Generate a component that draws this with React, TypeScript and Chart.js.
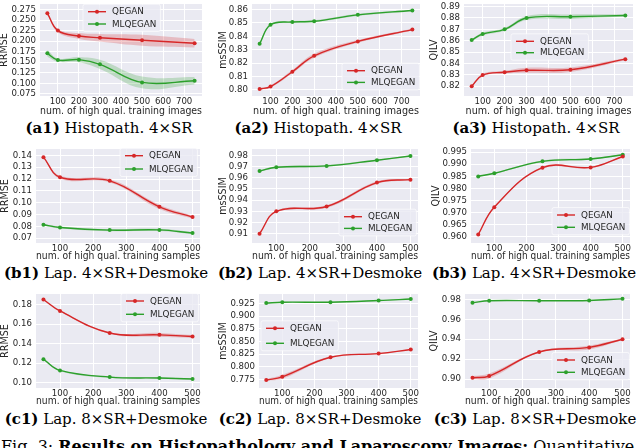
import React, { useEffect, useRef } from "react";
import { Chart, registerables } from "chart.js";

Chart.register(...registerables);

// ---------- categories / ticks ----------
const xHisto = [50, 100, 200, 300, 500, 750];
const xLap = [50, 100, 250, 400, 500];
const xTicksHisto = [100, 200, 300, 400, 500, 600, 700];
const xTicksLap = [100, 200, 300, 400, 500];

const yTicksA1 = [0.075, 0.1, 0.125, 0.15, 0.175, 0.2, 0.225, 0.25, 0.275];
const yTicksA2 = [0.8, 0.81, 0.82, 0.83, 0.84, 0.85, 0.86];
const yTicksA3 = [0.82, 0.83, 0.84, 0.85, 0.86, 0.87, 0.88, 0.89];
const yTicksB1 = [0.07, 0.08, 0.09, 0.1, 0.11, 0.12, 0.13, 0.14];
const yTicksB2 = [0.91, 0.92, 0.93, 0.94, 0.95, 0.96, 0.97, 0.98];
const yTicksB3 = [0.96, 0.965, 0.97, 0.975, 0.98, 0.985, 0.99, 0.995];
const yTicksC1 = [0.1, 0.12, 0.14, 0.16, 0.18];
const yTicksC2 = [0.775, 0.8, 0.825, 0.85, 0.875, 0.9, 0.925];
const yTicksC3 = [0.9, 0.92, 0.94, 0.96, 0.98];

// ---------- series values (mean and half-width of shaded band) ----------
const a1Q = [0.266, 0.225, 0.212, 0.208, 0.202, 0.195];
const a1QErr = [0.003, 0.004, 0.007, 0.009, 0.013, 0.01];
const a1M = [0.171, 0.155, 0.156, 0.145, 0.102, 0.106];
const a1MErr = [0.008, 0.004, 0.006, 0.011, 0.014, 0.009];

const a2Q = [0.8007, 0.8025, 0.8136, 0.8255, 0.8362, 0.845];
const a2QErr = [0.0006, 0.0008, 0.0012, 0.0015, 0.001, 0.0006];
const a2M = [0.8345, 0.8486, 0.8507, 0.8512, 0.856, 0.8593];
const a2MErr = [0.0005, 0.0006, 0.0007, 0.0007, 0.0008, 0.0006];

const a3Q = [0.82, 0.8298, 0.8323, 0.834, 0.8345, 0.8438];
const a3QErr = [0.001, 0.001, 0.0012, 0.0022, 0.002, 0.001];
const a3M = [0.8606, 0.8659, 0.87, 0.88, 0.8811, 0.8822];
const a3MErr = [0.0008, 0.0012, 0.0012, 0.0018, 0.002, 0.001];

const b1Q = [0.1385, 0.1215, 0.1185, 0.0965, 0.0878];
const b1QErr = [0.0005, 0.0012, 0.0014, 0.0018, 0.0012];
const b1M = [0.0813, 0.079, 0.0768, 0.077, 0.0743];
const b1MErr = [0.0006, 0.0009, 0.0009, 0.0009, 0.0008];

const b2Q = [0.91, 0.93, 0.9343, 0.9557, 0.9583];
const b2QErr = [0.0004, 0.0008, 0.0012, 0.0012, 0.0008];
const b2M = [0.966, 0.9694, 0.9706, 0.9757, 0.9794];
const b2MErr = [0.0006, 0.0008, 0.0009, 0.0006, 0.0004];

const b3Q = [0.961, 0.9723, 0.9886, 0.9887, 0.9932];
const b3QErr = [0.0002, 0.0003, 0.0004, 0.0003, 0.0002];
const b3M = [0.985, 0.9863, 0.9912, 0.9922, 0.9939];
const b3MErr = [0.0002, 0.0003, 0.0004, 0.0003, 0.0002];

const c1Q = [0.1852, 0.1734, 0.1508, 0.1489, 0.1472];
const c1QErr = [0.0005, 0.0008, 0.0008, 0.002, 0.0015];
const c1M = [0.1239, 0.1124, 0.1056, 0.1046, 0.1036];
const c1MErr = [0.0008, 0.0008, 0.0008, 0.0006, 0.0006];

const c2Q = [0.7737, 0.78, 0.8187, 0.826, 0.834];
const c2QErr = [0.0015, 0.004, 0.0015, 0.0015, 0.0008];
const c2M = [0.926, 0.9278, 0.9278, 0.931, 0.934];
const c2MErr = [0.0008, 0.0008, 0.0008, 0.0008, 0.0008];

const c3Q = [0.9013, 0.903, 0.9272, 0.9318, 0.94];
const c3QErr = [0.0015, 0.0025, 0.0008, 0.002, 0.0008];
const c3M = [0.9768, 0.9787, 0.9787, 0.979, 0.9806];
const c3MErr = [0.0003, 0.0003, 0.0003, 0.0003, 0.0003];

const seriesNames = ["QEGAN", "MLQEGAN"];

// ---------- style ----------
const RED = "#d62728";
const GREEN = "#2ca02c";
const RED_BAND = "rgba(214,39,40,0.24)";
const GREEN_BAND = "rgba(44,160,44,0.24)";
const BG = "#EAEAF2";
const TXT = "#262626";
const TICK_SIZE = 8.6;
const TITLE_SIZE = 9.6;
const LEGEND_SIZE = 8.8;
const SANS = "'DejaVu Sans', sans-serif";
const SERIF = "'DejaVu Serif', serif";

type Cfg = {
  x: number[];
  xTicks: number[];
  xMin: number;
  xMax: number;
  q: number[];
  qErr: number[];
  m: number[];
  mErr: number[];
  yMin: number;
  yMax: number;
  yTicks: number[];
  yDigits: number;
  yTitle: string;
  xTitle: string;
  rect: [number, number, number, number];
  yTitleX: number;
  xTitleY: number;
  legend: [number, number, number];
};

const XT_IMG = "num. of high qual. training images";
const XT_SMP = "num. of high qual. training samples";

const panels: Cfg[] = [
  { x: xHisto, xTicks: xTicksHisto, xMin: 15, xMax: 785, q: a1Q, qErr: a1QErr, m: a1M, mErr: a1MErr,
    yMin: 0.0698, yMax: 0.288, yTicks: yTicksA1, yDigits: 3, yTitle: "RRMSE", xTitle: XT_IMG,
    rect: [40, 0, 206, 96], yTitleX: 5, xTitleY: 111.7, legend: [88, 11.7, 12.3] },
  { x: xHisto, xTicks: xTicksHisto, xMin: 15, xMax: 785, q: a2Q, qErr: a2QErr, m: a2M, mErr: a2MErr,
    yMin: 0.7955, yMax: 0.8641, yTicks: yTicksA2, yDigits: 2, yTitle: "msSSIM", xTitle: XT_IMG,
    rect: [252, 0, 424, 96], yTitleX: 224, xTitleY: 111.7, legend: [347, 70.7, 11.7] },
  { x: xHisto, xTicks: xTicksHisto, xMin: 15, xMax: 785, q: a3Q, qErr: a3QErr, m: a3M, mErr: a3MErr,
    yMin: 0.8114, yMax: 0.8923, yTicks: yTicksA3, yDigits: 2, yTitle: "QILV", xTitle: XT_IMG,
    rect: [464, 0, 637, 96], yTitleX: 435, xTitleY: 111.7, legend: [516, 41.3, 11.4] },
  { x: xLap, xTicks: xTicksLap, xMin: 27.5, xMax: 522.5, q: b1Q, qErr: b1QErr, m: b1M, mErr: b1MErr,
    yMin: 0.0659, yMax: 0.1454, yTicks: yTicksB1, yDigits: 2, yTitle: "RRMSE", xTitle: XT_SMP,
    rect: [36, 145, 204, 243], yTitleX: 6, xTitleY: 256.7, legend: [125, 155.7, 13.3] },
  { x: xLap, xTicks: xTicksLap, xMin: 27.5, xMax: 522.5, q: b2Q, qErr: b2QErr, m: b2M, mErr: b2MErr,
    yMin: 0.9017, yMax: 0.9857, yTicks: yTicksB2, yDigits: 2, yTitle: "msSSIM", xTitle: XT_SMP,
    rect: [252, 145, 422, 243], yTitleX: 223.3, xTitleY: 256.7, legend: [344, 216.7, 11.7] },
  { x: xLap, xTicks: xTicksLap, xMin: 27.5, xMax: 522.5, q: b3Q, qErr: b3QErr, m: b3M, mErr: b3MErr,
    yMin: 0.9575, yMax: 0.9963, yTicks: yTicksB3, yDigits: 3, yTitle: "QILV", xTitle: XT_SMP,
    rect: [471, 145, 634, 243], yTitleX: 436.7, xTitleY: 256.7, legend: [557, 215, 12.3] },
  { x: xLap, xTicks: xTicksLap, xMin: 27.5, xMax: 522.5, q: c1Q, qErr: c1QErr, m: c1M, mErr: c1MErr,
    yMin: 0.0944, yMax: 0.1908, yTicks: yTicksC1, yDigits: 2, yTitle: "RRMSE", xTitle: XT_SMP,
    rect: [36, 290, 204, 388], yTitleX: 6, xTitleY: 401.7, legend: [126, 301, 13.3] },
  { x: xLap, xTicks: xTicksLap, xMin: 27.5, xMax: 522.5, q: c2Q, qErr: c2QErr, m: c2M, mErr: c2MErr,
    yMin: 0.7579, yMax: 0.944, yTicks: yTicksC2, yDigits: 3, yTitle: "msSSIM", xTitle: XT_SMP,
    rect: [259, 290, 422, 388], yTitleX: 224, xTitleY: 401.7, legend: [266, 328.3, 15] },
  { x: xLap, xTicks: xTicksLap, xMin: 27.5, xMax: 522.5, q: c3Q, qErr: c3QErr, m: c3M, mErr: c3MErr,
    yMin: 0.891, yMax: 0.9855, yTicks: yTicksC3, yDigits: 2, yTitle: "QILV", xTitle: XT_SMP,
    rect: [465, 290, 634, 388], yTitleX: 435, xTitleY: 401.7, legend: [557, 360, 12.3] },
];

type Cap = { tag: string; text: string; cx: number; cy: number };
const captions: Cap[] = [
  { tag: "(a1)", text: "Histopath. 4×SR", cx: 109, cy: 128 },
  { tag: "(a2)", text: "Histopath. 4×SR", cx: 318, cy: 128 },
  { tag: "(a3)", text: "Histopath. 4×SR", cx: 536, cy: 128 },
  { tag: "(b1)", text: "Lap. 4×SR+Desmoke", cx: 106, cy: 273 },
  { tag: "(b2)", text: "Lap. 4×SR+Desmoke", cx: 320, cy: 273 },
  { tag: "(b3)", text: "Lap. 4×SR+Desmoke", cx: 534, cy: 273 },
  { tag: "(c1)", text: "Lap. 8×SR+Desmoke", cx: 106, cy: 419 },
  { tag: "(c2)", text: "Lap. 8×SR+Desmoke", cx: 320, cy: 419 },
  { tag: "(c3)", text: "Lap. 8×SR+Desmoke", cx: 535, cy: 419 },
];

function Panel({ cfg }: { cfg: Cfg }) {
  const ref = useRef<HTMLCanvasElement | null>(null);
  const [l, t, r, b] = cfg.rect;
  const half = (TITLE_SIZE * 1.2) / 2;
  const cLeft = Math.round(cfg.yTitleX - half);
  const yW = l - cLeft;
  const xH = Math.round(cfg.xTitleY + half - b);
  const cw = r - cLeft;
  const ch = b - t + xH;

  useEffect(() => {
    if (!ref.current) return;
    const pts = (ys: number[]) => cfg.x.map((x, i) => ({ x, y: ys[i] }));
    const up = (ys: number[], e: number[]) => ys.map((v, i) => v + e[i]);
    const lo = (ys: number[], e: number[]) => ys.map((v, i) => v - e[i]);
    const mainDs = (ys: number[], c: string) => ({
      data: pts(ys),
      borderColor: c,
      backgroundColor: c,
      borderWidth: 1.4,
      pointRadius: 2,
      pointBorderWidth: 0,
      pointBackgroundColor: c,
      fill: false,
    });
    const bandDs = (ys: number[], fill: any, c: string) => ({
      data: pts(ys),
      borderWidth: 0,
      borderColor: "rgba(0,0,0,0)",
      backgroundColor: c,
      pointRadius: 0,
      fill,
    });

    const bgPlugin = {
      id: "bg",
      beforeDraw(chart: any) {
        const { ctx, chartArea: a } = chart;
        ctx.save();
        ctx.fillStyle = BG;
        ctx.fillRect(a.left, a.top, a.right - a.left, a.bottom - a.top);
        ctx.restore();
      },
    };

    const legendPlugin = {
      id: "lg",
      afterDatasetsDraw(chart: any) {
        const ctx = chart.ctx;
        const [lx0, ly0, dy] = cfg.legend;
        const lx = lx0 - cLeft;
        const ly = ly0 - t;
        ctx.save();
        ctx.font = `${LEGEND_SIZE}px ${SANS}`;
        const tw = Math.max(...seriesNames.map((n) => ctx.measureText(n).width));
        const x0 = lx - 5;
        const y0 = ly - 7.5;
        const w = 18 + 6 + tw + 9;
        const h = dy + 15;
        ctx.beginPath();
        if (ctx.roundRect) ctx.roundRect(x0, y0, w, h, 2);
        else ctx.rect(x0, y0, w, h);
        ctx.fillStyle = "rgba(234,234,242,0.8)";
        ctx.fill();
        ctx.strokeStyle = "rgba(255,255,255,0.8)";
        ctx.lineWidth = 0.8;
        ctx.stroke();
        const cols = [RED, GREEN];
        seriesNames.forEach((n, i) => {
          const yy = ly + i * dy;
          ctx.strokeStyle = cols[i];
          ctx.lineWidth = 1.4;
          ctx.beginPath();
          ctx.moveTo(lx, yy);
          ctx.lineTo(lx + 18, yy);
          ctx.stroke();
          ctx.fillStyle = cols[i];
          ctx.beginPath();
          ctx.arc(lx + 9, yy, 2, 0, Math.PI * 2);
          ctx.fill();
          ctx.fillStyle = TXT;
          ctx.textBaseline = "middle";
          ctx.textAlign = "left";
          ctx.fillText(n, lx + 24, yy + 0.5);
        });
        ctx.restore();
      },
    };

    const chart = new Chart(ref.current, {
      type: "line",
      data: {
        datasets: [
          mainDs(cfg.q, RED),
          mainDs(cfg.m, GREEN),
          bandDs(up(cfg.q, cfg.qErr), "+1", RED_BAND),
          bandDs(lo(cfg.q, cfg.qErr), false, RED_BAND),
          bandDs(up(cfg.m, cfg.mErr), "+1", GREEN_BAND),
          bandDs(lo(cfg.m, cfg.mErr), false, GREEN_BAND),
        ] as any,
      },
      options: {
        animation: false,
        responsive: false,
        devicePixelRatio: 1,
        events: [],
        layout: { padding: 0 },
        elements: { line: { tension: 0.4 } },
        plugins: { legend: { display: false }, tooltip: { enabled: false } },
        scales: {
          x: {
            type: "linear",
            min: cfg.xMin,
            max: cfg.xMax,
            afterBuildTicks: (s: any) => {
              s.ticks = cfg.xTicks.map((v) => ({ value: v }));
            },
            afterFit: (s: any) => {
              s.height = xH;
              s.paddingLeft = 0;
              s.paddingRight = 0;
              s.paddingTop = 0;
              s.paddingBottom = 0;
            },
            grid: { color: "#ffffff", lineWidth: 1, drawTicks: false },
            border: { display: false },
            ticks: {
              padding: 1,
              color: TXT,
              font: { size: TICK_SIZE, family: SANS },
              maxRotation: 0,
              autoSkip: false,
              callback: (v: any) => String(v),
            },
            title: {
              display: true,
              text: cfg.xTitle,
              color: TXT,
              font: { size: TITLE_SIZE, family: SANS },
              padding: 0,
            },
          },
          y: {
            type: "linear",
            min: cfg.yMin,
            max: cfg.yMax,
            afterBuildTicks: (s: any) => {
              s.ticks = cfg.yTicks.map((v) => ({ value: v }));
            },
            afterFit: (s: any) => {
              s.width = yW;
              s.paddingLeft = 0;
              s.paddingRight = 0;
              s.paddingTop = 0;
              s.paddingBottom = 0;
            },
            grid: { color: "#ffffff", lineWidth: 1, drawTicks: false },
            border: { display: false },
            ticks: {
              padding: 4,
              color: TXT,
              font: { size: TICK_SIZE, family: SANS },
              autoSkip: false,
              callback: (v: any) => Number(v).toFixed(cfg.yDigits),
            },
            title: {
              display: true,
              text: cfg.yTitle,
              color: TXT,
              font: { size: TITLE_SIZE, family: SANS },
              padding: 0,
            },
          },
        },
      } as any,
      plugins: [bgPlugin, legendPlugin],
    });
    return () => chart.destroy();
  }, []);

  return (
    <canvas
      ref={ref}
      width={cw}
      height={ch}
      style={{ position: "absolute", left: cLeft, top: t, width: cw, height: ch }}
    />
  );
}

export default function App() {
  return (
    <div
      style={{
        position: "fixed",
        left: 0,
        top: 0,
        width: 640,
        height: 448,
        overflow: "hidden",
        background: "#ffffff",
      }}
    >
      {panels.map((p, i) => (
        <Panel key={i} cfg={p} />
      ))}
      {captions.map((c, i) => (
        <div
          key={"c" + i}
          style={{
            position: "absolute",
            left: c.cx - 150,
            width: 300,
            top: c.cy - 9,
            height: 18,
            lineHeight: "18px",
            textAlign: "center",
            fontFamily: SERIF,
            fontSize: 15,
            color: "#000",
            whiteSpace: "nowrap",
          }}
        >
          <b>{c.tag}</b> {c.text}
        </div>
      ))}
      <div
        style={{
          position: "absolute",
          left: 1,
          top: 438,
          lineHeight: "18px",
          fontFamily: SERIF,
          fontSize: 16,
          color: "#000",
          whiteSpace: "nowrap",
        }}
      >
        Fig. 3: <b>Results on Histopathology and Laparoscopy Images:</b> Quantitative
      </div>
    </div>
  );
}
